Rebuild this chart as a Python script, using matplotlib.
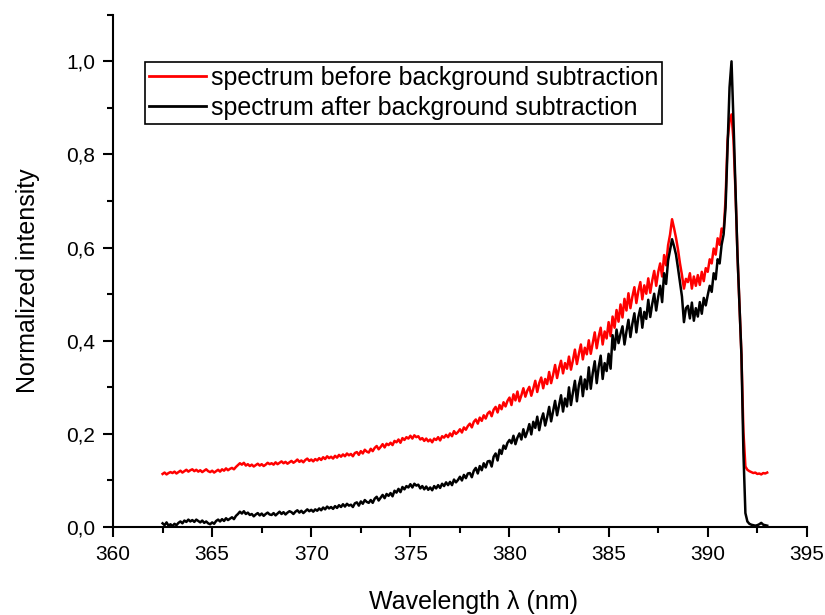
# Spectrum before / after background subtraction, normalized intensity vs wavelength

import numpy as np
import matplotlib
matplotlib.use("Agg")
import matplotlib.pyplot as plt
from matplotlib.ticker import MultipleLocator, FuncFormatter

plt.rcParams["font.family"] = ["Liberation Sans", "DejaVu Sans"]

# Wavelength grid in nm (0.1 nm steps, 362.5 ... 393.0)
wavelength = np.round(np.arange(362.5, 393.05, 0.1), 1)

# Spectrum before background subtraction (one row per nm)
before = [
    0.114, 0.117, 0.113, 0.116, 0.118,
    0.116, 0.119, 0.115, 0.118, 0.121, 0.117, 0.120, 0.123, 0.119, 0.122,
    0.124, 0.120, 0.123, 0.119, 0.122, 0.118, 0.121, 0.124, 0.120, 0.118,
    0.121, 0.117, 0.120, 0.123, 0.119, 0.124, 0.121, 0.126, 0.122, 0.125,
    0.127, 0.124, 0.129, 0.133, 0.137, 0.134, 0.138, 0.132, 0.135, 0.131,
    0.134, 0.130, 0.133, 0.136, 0.132, 0.135, 0.131, 0.134, 0.138, 0.135,
    0.137, 0.134, 0.139, 0.135, 0.138, 0.141, 0.137, 0.140, 0.136, 0.139,
    0.142, 0.138, 0.141, 0.145, 0.140, 0.143, 0.139, 0.144, 0.147, 0.142,
    0.145, 0.141, 0.146, 0.143, 0.148, 0.144, 0.150, 0.146, 0.152, 0.148,
    0.151, 0.147, 0.153, 0.149, 0.155, 0.151, 0.156, 0.152, 0.158, 0.154,
    0.157, 0.152, 0.159, 0.161, 0.155, 0.163, 0.158, 0.166, 0.162, 0.160,
    0.168, 0.163, 0.170, 0.174, 0.167, 0.172, 0.178, 0.171, 0.179, 0.176,
    0.181, 0.176, 0.185, 0.182, 0.188, 0.181, 0.191, 0.187, 0.193, 0.190,
    0.196, 0.190, 0.197, 0.193, 0.195, 0.188, 0.191, 0.185, 0.190, 0.184,
    0.188, 0.182, 0.190, 0.187, 0.193, 0.186, 0.195, 0.192, 0.198, 0.193,
    0.201, 0.195, 0.206, 0.200, 0.204, 0.210, 0.203, 0.214, 0.209, 0.217,
    0.222, 0.214, 0.226, 0.231, 0.222, 0.235, 0.228, 0.240, 0.233, 0.244,
    0.248, 0.238, 0.252, 0.258, 0.246, 0.262, 0.253, 0.268, 0.259, 0.271,
    0.278, 0.262, 0.285, 0.272, 0.291, 0.270, 0.283, 0.298, 0.280, 0.293,
    0.301, 0.282, 0.297, 0.314, 0.290, 0.309, 0.321, 0.298, 0.318, 0.307,
    0.333, 0.309, 0.327, 0.348, 0.320, 0.341, 0.357, 0.330, 0.352, 0.340,
    0.366, 0.338, 0.358, 0.381, 0.350, 0.372, 0.392, 0.360, 0.385, 0.371,
    0.401, 0.372, 0.395, 0.418, 0.384, 0.409, 0.428, 0.392, 0.420, 0.405,
    0.440, 0.410, 0.452, 0.428, 0.466, 0.441, 0.478, 0.450, 0.490, 0.465,
    0.502, 0.470, 0.495, 0.515, 0.481, 0.507, 0.526, 0.489, 0.519, 0.501,
    0.534, 0.503, 0.529, 0.550, 0.518, 0.547, 0.566, 0.538, 0.584, 0.562,
    0.605, 0.628, 0.661, 0.642, 0.621, 0.596, 0.566, 0.541, 0.512, 0.533,
    0.526, 0.545, 0.512, 0.538, 0.518, 0.541, 0.520, 0.548, 0.528, 0.556,
    0.548, 0.575, 0.566, 0.598, 0.585, 0.620, 0.606, 0.641, 0.632, 0.705,
    0.830, 0.872, 0.886, 0.830, 0.720, 0.585, 0.480, 0.370, 0.205, 0.130,
    0.123, 0.120, 0.118, 0.116, 0.117, 0.114, 0.115, 0.113, 0.116, 0.115,
    0.117,
]

# Spectrum after background subtraction (one row per nm)
after = [
    0.008, 0.004, 0.010, 0.003, 0.006,
    0.002, 0.007, 0.004, 0.009, 0.012, 0.008, 0.014, 0.011, 0.016, 0.012,
    0.015, 0.011, 0.016, 0.013, 0.010, 0.014, 0.009, 0.012, 0.008, 0.006,
    0.010, 0.007, 0.013, 0.016, 0.012, 0.017, 0.013, 0.019, 0.015, 0.018,
    0.021, 0.017, 0.024, 0.028, 0.033, 0.029, 0.034, 0.028, 0.031, 0.026,
    0.028, 0.023, 0.027, 0.030, 0.025, 0.029, 0.024, 0.028, 0.031, 0.027,
    0.026, 0.030, 0.025, 0.029, 0.033, 0.028, 0.032, 0.027, 0.031, 0.034,
    0.032, 0.028, 0.033, 0.036, 0.031, 0.035, 0.030, 0.034, 0.038, 0.034,
    0.037, 0.033, 0.038, 0.035, 0.040, 0.036, 0.042, 0.038, 0.044, 0.040,
    0.043, 0.039, 0.045, 0.041, 0.047, 0.043, 0.049, 0.044, 0.050, 0.046,
    0.048, 0.043, 0.051, 0.053, 0.046, 0.055, 0.050, 0.058, 0.054, 0.052,
    0.058, 0.052, 0.061, 0.065, 0.057, 0.063, 0.069, 0.062, 0.071, 0.067,
    0.073, 0.066, 0.078, 0.074, 0.082, 0.075, 0.086, 0.081, 0.088, 0.085,
    0.092, 0.085, 0.093, 0.089, 0.091, 0.083, 0.088, 0.081, 0.087, 0.080,
    0.085, 0.079, 0.088, 0.083, 0.090, 0.084, 0.093, 0.088, 0.096, 0.090,
    0.097, 0.090, 0.102, 0.096, 0.101, 0.108, 0.100, 0.112, 0.105, 0.115,
    0.116, 0.107, 0.121, 0.127, 0.115, 0.131, 0.122, 0.137, 0.128, 0.141,
    0.142, 0.130, 0.151, 0.158, 0.143, 0.166, 0.157, 0.175, 0.168, 0.181,
    0.187, 0.180, 0.196, 0.178, 0.192, 0.201, 0.188, 0.210, 0.193, 0.205,
    0.221, 0.199, 0.226, 0.213, 0.237, 0.208, 0.230, 0.244, 0.218, 0.236,
    0.258, 0.227, 0.249, 0.271, 0.240, 0.262, 0.283, 0.248, 0.276, 0.259,
    0.300, 0.262, 0.289, 0.314, 0.270, 0.305, 0.323, 0.281, 0.317, 0.296,
    0.343, 0.297, 0.331, 0.356, 0.309, 0.344, 0.368, 0.318, 0.352, 0.335,
    0.372, 0.340, 0.412, 0.381, 0.424, 0.395, 0.415, 0.431, 0.392, 0.420,
    0.445, 0.408, 0.437, 0.459, 0.418, 0.451, 0.470, 0.428, 0.462, 0.447,
    0.488, 0.451, 0.479, 0.501, 0.465, 0.494, 0.518, 0.483, 0.545, 0.522,
    0.572, 0.595, 0.618, 0.603, 0.585, 0.556, 0.525, 0.495, 0.440, 0.470,
    0.475, 0.448, 0.482, 0.443, 0.470, 0.452, 0.483, 0.458, 0.492, 0.476,
    0.498, 0.518, 0.505, 0.545, 0.532, 0.575, 0.566, 0.606, 0.628, 0.686,
    0.815, 0.944, 1.000, 0.870, 0.730, 0.585, 0.477, 0.370, 0.160, 0.030,
    0.012, 0.007, 0.005, 0.004, 0.003, 0.004, 0.006, 0.009, 0.005, 0.004,
    0.003,
]

labels = ["spectrum before background subtraction",
          "spectrum after background subtraction"]

fig = plt.figure(figsize=(8.25, 6.15), dpi=100)
ax = fig.add_axes([0.137, 0.143, 0.841, 0.833])

ax.plot(wavelength, before, color="red", lw=1.8, label=labels[0])
ax.plot(wavelength, after, color="black", lw=1.8, label=labels[1])

ax.set_xlim(360, 395)
ax.set_ylim(0, 1.1)

# Axis styling: only left and bottom spines, ticks pointing out
for side in ["top", "right"]:
    ax.spines[side].set_visible(False)
for side in ["left", "bottom"]:
    ax.spines[side].set_linewidth(1.5)

ax.xaxis.set_major_locator(MultipleLocator(5))
ax.xaxis.set_minor_locator(MultipleLocator(2.5))
ax.yaxis.set_major_locator(MultipleLocator(0.2))
ax.yaxis.set_minor_locator(MultipleLocator(0.1))
ax.yaxis.set_major_formatter(FuncFormatter(lambda v, p: f"{v:.1f}".replace(".", ",")))

ax.tick_params(which="major", direction="out", length=7, width=1.5, labelsize=15, pad=6)
ax.tick_params(which="minor", direction="out", length=4, width=1.5)

ax.set_xlabel("Wavelength \u03bb (nm)", fontsize=18)
ax.set_ylabel("Normalized intensity", fontsize=18)
ax.xaxis.set_label_coords(0.519, -0.123)
ax.yaxis.set_label_coords(-0.105, 0.48)

leg = ax.legend(loc="upper left", bbox_to_anchor=(0.046, 0.908), borderaxespad=0,
                fontsize=18, fancybox=False, edgecolor="black", framealpha=1,
                handlelength=2.3, handletextpad=0.2, labelspacing=0.25,
                borderpad=0.15)
leg.get_frame().set_linewidth(1.2)
for line in leg.get_lines():
    line.set_linewidth(2)

fig.savefig("out.png", dpi=100)
